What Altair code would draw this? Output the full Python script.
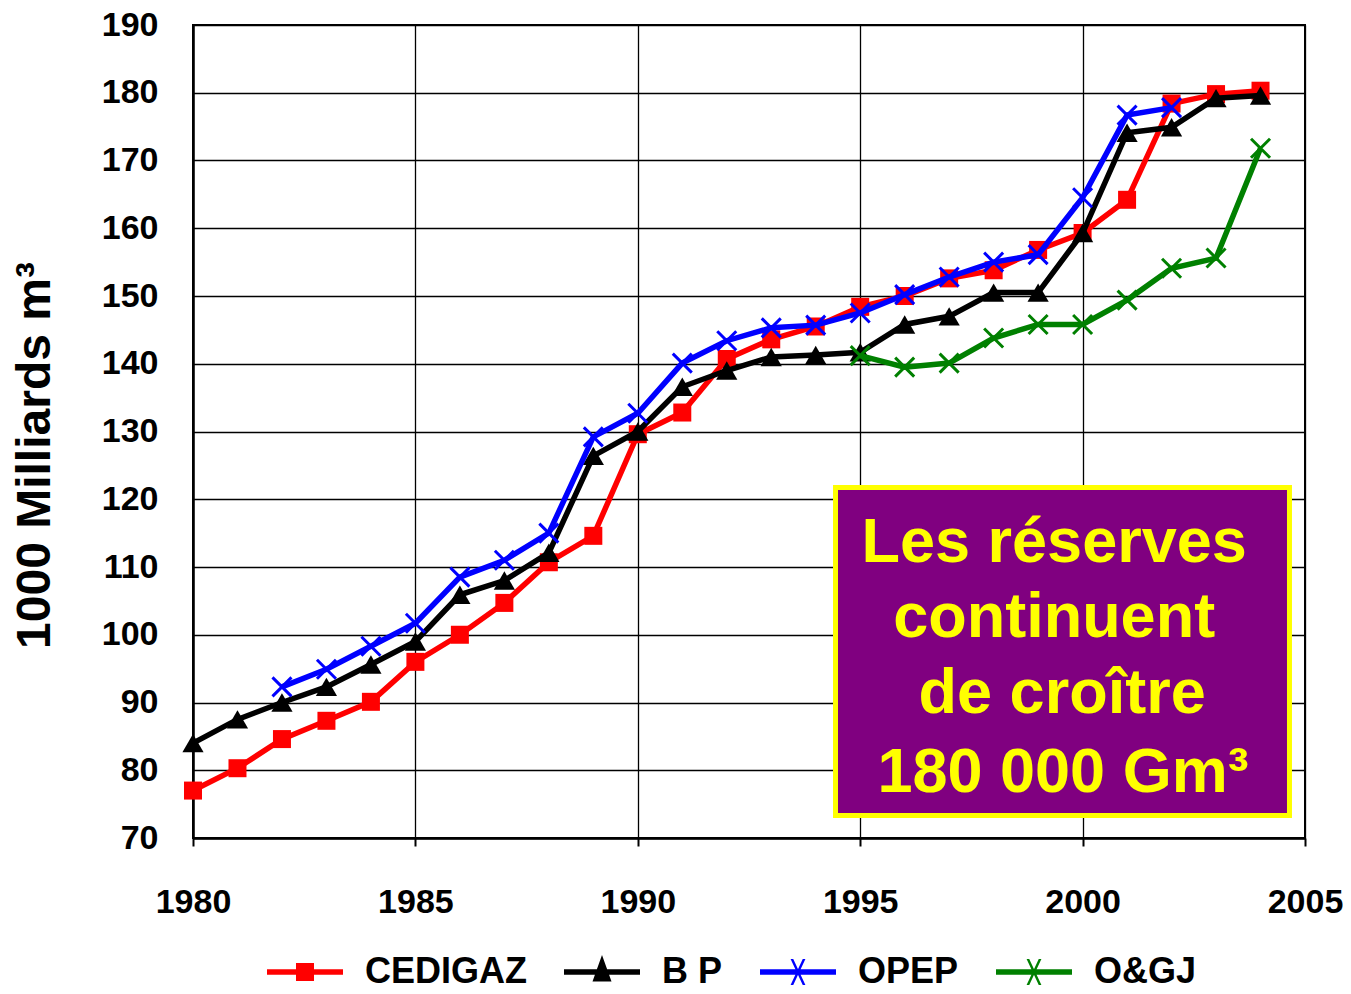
import altair as alt
import pandas as pd

# ---------------- data ----------------
years = list(range(1980, 2005))
cedigaz = [77.0, 80.3, 84.6, 87.3, 90.1, 96.0, 100.0, 104.7, 110.7, 114.6,
           129.6, 132.8, 140.7, 143.6, 145.5, 148.4, 150.0, 152.6, 153.8, 156.8,
           159.3, 164.2, 178.4, 179.8, 180.3]
bp = [84.0, 87.5, 90.0, 92.3, 95.6, 99.0, 105.9, 108.0, 112.1, 126.4,
      130.0, 136.6, 139.0, 141.0, 141.3, 141.7, 145.8, 147.0, 150.5, 150.5,
      159.3, 174.1, 174.9, 179.2, 179.6]
opep_years = list(range(1982, 2003))
opep = [92.3, 94.9, 98.3, 101.7, 108.5, 111.0, 115.0, 129.2, 132.7, 140.1,
        143.4, 145.3, 145.7, 147.5, 150.2, 152.8, 155.0, 156.1, 164.5, 176.7,
        177.8]
ogj_years = list(range(1995, 2005))
ogj = [141.2, 139.5, 140.1, 143.8, 145.8, 145.8, 149.4, 154.1, 155.6, 171.8]

series_names = ["CEDIGAZ", "B P", "OPEP", "O&GJ"]
series_colors = ["#FF0000", "#000000", "#0000FF", "#008000"]

x_ticks = [1980, 1985, 1990, 1995, 2000, 2005]
y_ticks = list(range(70, 191, 10))

# annotation box (data units) and its text lines
box_x = [1994.445, 2004.651]
box_y = [121.73, 73.32]
text_lines = ["Les réserves", "continuent", "de croître", "180 000 Gm³"]
text_x = [1999.36, 1999.36, 1999.54, 1999.56]
text_y = [110.74, 99.67, 88.45, 76.79]

FONT = "Liberation Sans"

rows = []
for name, xs, vs in [("CEDIGAZ", years, cedigaz), ("B P", years, bp),
                     ("OPEP", opep_years, opep), ("O&GJ", ogj_years, ogj)]:
    for yv, v in zip(xs, vs):
        rows.append({"year": yv, "value": v, "series": name})
df = pd.DataFrame(rows)

x_scale = alt.Scale(domain=[1980, 2005], nice=False, zero=False)
y_scale = alt.Scale(domain=[70, 190], nice=False, zero=False)
x_axis = alt.Axis(values=x_ticks, format="d", grid=True, tickSize=8, tickWidth=2,
                  labelPadding=39, labelFlush=False, labelOverlap=False)
y_axis = alt.Axis(values=y_ticks, format="d", grid=True, tickSize=0,
                  labelPadding=35, labelFlush=False, labelOverlap=False,
                  titleFontSize=48, titleAngle=270, titleX=-158, titleY=430,
                  titleAlign="center", titleBaseline="middle")


def X(field="year"):
    return alt.X(f"{field}:Q", scale=x_scale, axis=x_axis, title=None)


def Y(field="value"):
    return alt.Y(f"{field}:Q", scale=y_scale, axis=y_axis, title="1000 Milliards m³")


xpath = "M-1,-1L1,1M-1,1L1,-1"
marker_spec = {
    "CEDIGAZ": dict(shape="square", filled=True, size=324, strokeWidth=0),
    "B P": dict(shape="triangle-up", filled=True, size=450, strokeWidth=0),
    "OPEP": dict(shape=xpath, filled=False, size=361, strokeWidth=3),
    "O&GJ": dict(shape=xpath, filled=False, size=361, strokeWidth=3),
}

layers = []
for name, color in zip(series_names, series_colors):
    base = alt.Chart(df).transform_filter(alt.datum.series == name)
    line = base.mark_line(color=color, strokeWidth=5.5).encode(x=X(), y=Y())
    pts = base.mark_point(color=color, opacity=1, **marker_spec[name]).encode(x=X(), y=Y())
    layers += [line, pts]

# legend symbols: line + marker, unit coordinates (symbol box 76 px wide)
t = 0.072
line_p = f"M-1,{-t}H1V{t}H-1Z"
sq = 0.237
sq_p = f"M{-sq},{-sq}H{sq}V{sq}H{-sq}Z"
tri_p = "M0,-0.45L0.25,0.25H-0.25Z"
a, b, w = 0.16, 0.34, 0.035
x_p = (f"M{-a-w},{-b}L{-a+w},{-b}L{a+w},{b}L{a-w},{b}Z"
       f"M{a-w},{-b}L{a+w},{-b}L{-a+w},{b}L{-a-w},{b}Z")
legend_paths = [line_p + sq_p, line_p + tri_p, line_p + x_p, line_p + x_p]

leg = alt.Legend(title=None, orient="none", legendX=74, legendY=909, direction="horizontal",
                 padding=0, symbolSize=5776, symbolOpacity=1, symbolStrokeWidth=0,
                 labelFont=FONT, labelFontSize=36, labelFontWeight="bold", labelColor="black",
                 labelOffset=22, columnPadding=37, labelLimit=500)

legend_layer = alt.Chart(df).mark_point(filled=True, opacity=0).encode(
    x=X(), y=Y(),
    fill=alt.Fill("series:N", scale=alt.Scale(domain=series_names, range=series_colors), legend=leg),
    shape=alt.Shape("series:N", scale=alt.Scale(domain=series_names, range=legend_paths), legend=leg),
)

box_df = pd.DataFrame({"year": [box_x[0]], "year2": [box_x[1]],
                       "value": [box_y[0]], "value2": [box_y[1]]})
box = alt.Chart(box_df).mark_rect(fill="#800080", stroke="#FFFF00", strokeWidth=5).encode(
    x=X(), x2="year2:Q", y=Y(), y2="value2:Q")

txt_df = pd.DataFrame({"year": text_x, "value": text_y, "label": text_lines})
txt = alt.Chart(txt_df).mark_text(font=FONT, fontSize=63, fontWeight="bold", color="#FFFF00",
                                  align="center", baseline="alphabetic").encode(
    x=X(), y=Y(), text="label:N")

chart = alt.layer(*layers, legend_layer, box, txt).properties(
    width=1112, height=813,
    autosize=alt.AutoSizeParams(type="none"),
    padding={"left": 185, "top": 17, "right": 38, "bottom": 148},
    background="white",
).configure_view(stroke="black", strokeWidth=2).configure_axis(
    domainColor="black", domainWidth=2.5, gridColor="black", gridWidth=1.3,
    gridOpacity=1, tickColor="black",
    labelFont=FONT, labelFontSize=34, labelFontWeight="bold", labelColor="black",
    titleFont=FONT, titleFontWeight="bold", titleColor="black",
)

chart.save("out.html", embed_options={"renderer": "svg", "actions": False})
